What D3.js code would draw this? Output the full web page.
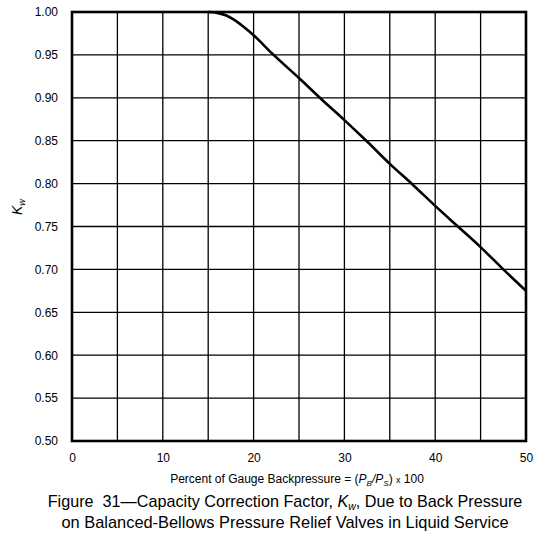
<!DOCTYPE html>
<html>
<head>
<meta charset="utf-8">
<script src="https://cdn.jsdelivr.net/npm/d3@7"></script>
<style>
  body { margin: 0; background: #fff; }
  text { font-family: "Liberation Sans", Arial, sans-serif; fill: #000; }
</style>
</head>
<body>
<div id="chart"></div>
<script>
// curve: percent backpressure vs Kw
var backpressure = [15, 16, 17, 18, 19, 20, 22, 25, 27.5, 30, 32.5, 35, 37.5, 40, 42.5, 45, 47.5, 50];
var kw = [1.000, 0.999, 0.996, 0.990, 0.982, 0.973, 0.952, 0.923, 0.898, 0.874, 0.849, 0.823, 0.799, 0.774, 0.750, 0.726, 0.700, 0.675];

var xTicks = [0, 10, 20, 30, 40, 50];
var yTicks = [0.50, 0.55, 0.60, 0.65, 0.70, 0.75, 0.80, 0.85, 0.90, 0.95, 1.00];
var xGrid = [5, 10, 15, 20, 25, 30, 35, 40, 45];

var margin = {top: 12, right: 16, bottom: 103, left: 72},
    width = 542 - margin.left - margin.right,
    height = 544 - margin.top - margin.bottom;

var svg = d3.select("#chart")
  .append("svg")
    .attr("width", 542)
    .attr("height", 544)
  .append("g")
    .attr("transform", "translate(" + margin.left + "," + margin.top + ")");

var x = d3.scaleLinear().domain([0, 50]).range([0, width]);
var y = d3.scaleLinear().domain([0.5, 1.0]).range([height, 0]);

// grid
svg.selectAll(".vgrid")
  .data(xGrid)
  .enter()
  .append("line")
    .attr("x1", function(d) { return x(d); })
    .attr("x2", function(d) { return x(d); })
    .attr("y1", 0)
    .attr("y2", height)
    .style("stroke", "#000")
    .style("stroke-width", 1.3);

svg.selectAll(".hgrid")
  .data(yTicks)
  .enter()
  .append("line")
    .attr("x1", 0)
    .attr("x2", width)
    .attr("y1", function(d) { return y(d); })
    .attr("y2", function(d) { return y(d); })
    .style("stroke", "#000")
    .style("stroke-width", 1.3);

// frame
svg.append("rect")
  .attr("x", 0)
  .attr("y", 0)
  .attr("width", width)
  .attr("height", height)
  .style("fill", "none")
  .style("stroke", "#000")
  .style("stroke-width", 2.6);

// axes (labels only)
var gx = svg.append("g")
  .attr("transform", "translate(0," + height + ")")
  .call(d3.axisBottom(x).tickValues(xTicks).tickSize(0).tickPadding(12).tickFormat(d3.format("d")));
gx.select(".domain").remove();
gx.selectAll("text").style("font-size", "12px").style("font-family", "Liberation Sans, Arial, sans-serif");

var gy = svg.append("g")
  .call(d3.axisLeft(y).tickValues(yTicks).tickSize(0).tickPadding(14).tickFormat(d3.format(".2f")));
gy.select(".domain").remove();
gy.selectAll("text").style("font-size", "12px").style("font-family", "Liberation Sans, Arial, sans-serif");

// curve
var line = d3.line()
  .x(function(d, i) { return x(backpressure[i]); })
  .y(function(d) { return y(d); })
  .curve(d3.curveMonotoneX);

svg.append("path")
  .datum(kw)
  .attr("d", line)
  .style("fill", "none")
  .style("stroke", "#000")
  .style("stroke-width", 2.6);

// y label
var ylab = svg.append("text")
  .attr("transform", "translate(-50," + (y(0.775) + 2) + ") rotate(-90)")
  .attr("text-anchor", "middle")
  .style("font-size", "14px")
  .style("font-style", "italic");
ylab.append("tspan").text("K");
ylab.append("tspan").attr("dy", 3).style("font-size", "9px").text("w");

// x label
var xlab = svg.append("text")
  .attr("x", width / 2 - 2)
  .attr("y", height + 42)
  .attr("text-anchor", "middle")
  .style("font-size", "12px");
xlab.append("tspan").text("Percent of Gauge Backpressure = (");
xlab.append("tspan").style("font-style", "italic").text("P");
xlab.append("tspan").attr("dy", 3).style("font-style", "italic").style("font-size", "8px").text("B");
xlab.append("tspan").attr("dy", -3).style("font-style", "italic").text("/P");
xlab.append("tspan").attr("dy", 3).style("font-style", "italic").style("font-size", "8px").text("S");
xlab.append("tspan").attr("dy", -3).text(") ");
xlab.append("tspan").style("font-size", "9px").text("x");
xlab.append("tspan").text(" 100");

// caption
var capX = 213;
var cap1 = svg.append("text")
  .attr("x", capX)
  .attr("y", height + 66)
  .attr("text-anchor", "middle")
  .style("font-size", "16.2px");
cap1.append("tspan").text("Figure \u00a031\u2014Capacity Correction Factor, ");
cap1.append("tspan").style("font-style", "italic").text("K");
cap1.append("tspan").attr("dy", 3).style("font-style", "italic").style("font-size", "10.5px").text("w");
cap1.append("tspan").attr("dy", -3).text(", Due to Back Pressure");

svg.append("text")
  .attr("x", capX)
  .attr("y", height + 87)
  .attr("text-anchor", "middle")
  .style("font-size", "16.4px")
  .text("on Balanced-Bellows Pressure Relief Valves in Liquid Service");
</script>
</body>
</html>
